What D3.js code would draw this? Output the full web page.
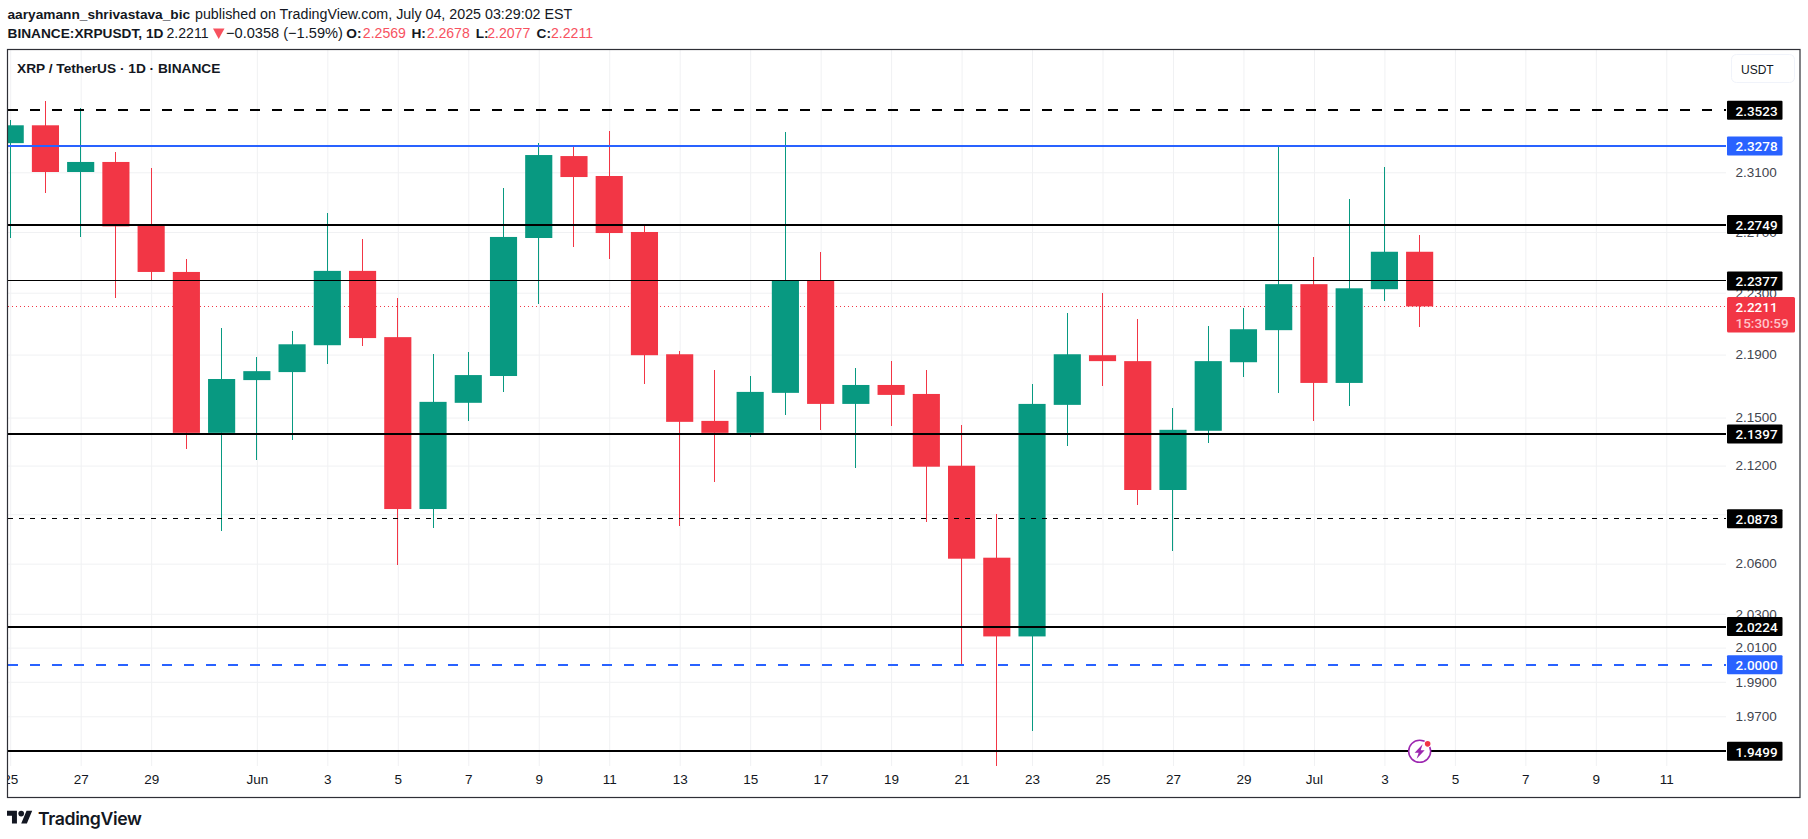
<!DOCTYPE html>
<html>
<head>
<meta charset="utf-8">
<script src="https://cdnjs.cloudflare.com/ajax/libs/d3/7.8.5/d3.min.js"></script>
<style>
  html, body { margin: 0; padding: 0; background: #fff; overflow: hidden; }
  text { font-family: "Liberation Sans", Arial, sans-serif; }
  .price-axis path, .time-axis path { display: none; }
  .grid line { stroke: #f0f1f3; stroke-width: 1; }
  .grid path { display: none; }
  .grid text { display: none; }
  .tag { font-family: Roboto, sans-serif; font-weight: 500; font-size: 13.5px; }
</style>
</head>
<body>
<script>
// Candles
var days = ["2025-05-25","2025-05-26","2025-05-27","2025-05-28","2025-05-29","2025-05-30","2025-05-31",
  "2025-06-01","2025-06-02","2025-06-03","2025-06-04","2025-06-05","2025-06-06","2025-06-07","2025-06-08",
  "2025-06-09","2025-06-10","2025-06-11","2025-06-12","2025-06-13","2025-06-14","2025-06-15","2025-06-16",
  "2025-06-17","2025-06-18","2025-06-19","2025-06-20","2025-06-21","2025-06-22","2025-06-23","2025-06-24",
  "2025-06-25","2025-06-26","2025-06-27","2025-06-28","2025-06-29","2025-06-30","2025-07-01","2025-07-02",
  "2025-07-03","2025-07-04"];
var opens = [2.3298,2.3420,2.3102,2.3170,2.2744,2.2436,2.1404,2.1737,2.1788,2.1960,2.2443,2.2012,2.0932,2.1593,
  2.1763,2.2660,2.3210,2.3075,2.2700,2.1902,2.1479,2.1404,2.1656,2.2377,2.1586,2.1706,2.1649,2.1199,2.0636,
  2.0166,2.1580,2.1896,2.1858,2.1049,2.1417,2.1851,2.2057,2.2356,2.1719,2.2323,2.2569];
var highs = [2.3454,2.3589,2.3541,2.3237,2.3129,2.2522,2.2070,2.1883,2.2050,2.2825,2.2653,2.2263,2.1902,2.1915,
  2.2994,2.3298,2.3278,2.3379,2.2737,2.1921,2.1801,2.1763,2.3372,2.2568,2.1813,2.1858,2.1801,2.1454,2.0902,
  2.1712,2.2166,2.2295,2.2128,2.1561,2.2083,2.2199,2.3271,2.2535,2.2920,2.3136,2.2678];
var lows = [2.2660,2.2960,2.2667,2.2265,2.2383,2.1305,2.0799,2.1236,2.1361,2.1839,2.1953,2.0593,2.0817,2.1479,
  2.1662,2.2225,2.2601,2.2522,2.1712,2.0829,2.1099,2.1379,2.1516,2.1423,2.1186,2.1448,2.0853,2.0001,1.9414,
  1.9615,2.1323,2.1700,2.0956,2.0678,2.1342,2.1756,2.1656,2.1479,2.1574,2.2244,2.2077];
var closes = [2.3420,2.3102,2.3170,2.2737,2.2436,2.1404,2.1744,2.1794,2.1966,2.2443,2.2006,2.0932,2.1599,2.1769,
  2.2667,2.3217,2.3068,2.2693,2.1896,2.1473,2.1404,2.1662,2.2377,2.1586,2.1706,2.1643,2.1193,2.0630,2.0166,
  2.1586,2.1902,2.1858,2.1049,2.1423,2.1858,2.2063,2.2356,2.1719,2.2329,2.2569,2.2211];

// Axis ticks
var priceTicks = [2.31,2.27,2.23,2.19,2.15,2.12,2.09,2.06,2.03,2.01,1.99,1.97];
var timeTicks = ["2025-05-25","2025-05-27","2025-05-29","2025-06-01","2025-06-03","2025-06-05","2025-06-07",
  "2025-06-09","2025-06-11","2025-06-13","2025-06-15","2025-06-17","2025-06-19","2025-06-21","2025-06-23",
  "2025-06-25","2025-06-27","2025-06-29","2025-07-01","2025-07-03","2025-07-05","2025-07-07","2025-07-09",
  "2025-07-11"];
var timeLabels = ["25","27","29","Jun","3","5","7","9","11","13","15","17","19","21","23","25","27","29",
  "Jul","3","5","7","9","11"];

// Horizontal levels drawn on the chart
var levelPrices = [2.3523,2.3278,2.2749,2.2377,2.1397,2.0873,2.0224,2.0000,1.9499];
var levelColors = ["#000000","#2962ff","#000000","#000000","#000000","#000000","#000000","#2962ff","#000000"];
var levelWidths = [2,2,2,1,2,1,2,2,2];
var levelDashes = ["10,12","none","none","none","none","5,6","none","10,12","none"];

var lastPrice = 2.2211;
var countdown = "15:30:59";
var changeText = "\u22120.0358 (\u22121.59%)";
var ohlcLabels = ["O:","H:","L:","C:"];
var ohlcValues = ["2.2569","2.2678","2.2077","2.2211"];

// SVG Size
var width = 1808, height = 839;
var frame = {left: 7.5, top: 49.5, right: 1800, bottom: 797.5};
var plotRight = 1726, plotBottom = 766;
var green = "#089981", red = "#f23645", ink = "#131722";

var parseDay = d3.utcParse("%Y-%m-%d");
var x = d3.scaleUtc()
  .domain([parseDay("2025-05-25"), parseDay("2025-07-11")])
  .range([10.2, 1666.3]);
var y = d3.scaleLog()
  .domain([1.97, 2.31])
  .range([716.3, 172.3]);

var candles = days.map(function(d, i) {
  return {day: parseDay(d), o: opens[i], h: highs[i], l: lows[i], c: closes[i]};
});
var bodyWidth = (x(parseDay("2025-05-26")) - x(parseDay("2025-05-25"))) * 0.77;

var svg = d3.select("body").append("svg")
  .attr("width", width)
  .attr("height", height)
  .style("display", "block");

svg.append("clipPath").attr("id", "plot-clip").append("rect")
  .attr("x", frame.left).attr("y", frame.top)
  .attr("width", plotRight - frame.left).attr("height", plotBottom - frame.top);

var tickDates = timeTicks.map(parseDay);
var plot = svg.append("g").attr("clip-path", "url(#plot-clip)");

// grid
plot.append("g")
  .attr("class", "grid")
  .attr("transform", "translate(0," + plotBottom + ")")
  .call(d3.axisBottom(x).tickValues(tickDates).tickSize(-(plotBottom - frame.top)).tickFormat(""));
plot.append("g")
  .attr("class", "grid")
  .attr("transform", "translate(" + frame.left + ",0)")
  .call(d3.axisRight(y).tickValues(priceTicks).tickSize(plotRight - frame.left).tickFormat(""));

// last price line sits behind the candles
plot.append("line")
  .attr("x1", frame.left).attr("x2", plotRight)
  .attr("y1", y(lastPrice)).attr("y2", y(lastPrice))
  .attr("stroke", red).attr("stroke-width", 1).attr("stroke-dasharray", "1,3")
  .attr("shape-rendering", "crispEdges");

function candleColor(d) { return d.c >= d.o ? green : red; }

plot.append("g").selectAll("line")
  .data(candles)
  .enter()
  .append("line")
  .attr("x1", function(d) { return x(d.day); })
  .attr("x2", function(d) { return x(d.day); })
  .attr("y1", function(d) { return y(d.h); })
  .attr("y2", function(d) { return y(d.l); })
  .attr("stroke", candleColor)
  .attr("stroke-width", 1)
  .attr("shape-rendering", "crispEdges");

plot.append("g").selectAll("rect")
  .data(candles)
  .enter()
  .append("rect")
  .attr("x", function(d) { return x(d.day) - bodyWidth / 2; })
  .attr("y", function(d) { return y(Math.max(d.o, d.c)); })
  .attr("width", bodyWidth)
  .attr("height", function(d) { return y(Math.min(d.o, d.c)) - y(Math.max(d.o, d.c)); })
  .attr("fill", candleColor);

// levels on top of the candles
plot.append("g").selectAll("line")
  .data(levelPrices)
  .enter()
  .append("line")
  .attr("x1", frame.left).attr("x2", plotRight)
  .attr("y1", function(d) { return y(d); })
  .attr("y2", function(d) { return y(d); })
  .attr("stroke", function(d, i) { return levelColors[i]; })
  .attr("stroke-width", function(d, i) { return levelWidths[i]; })
  .attr("stroke-dasharray", function(d, i) { return levelDashes[i]; })
  .attr("shape-rendering", "crispEdges");

// price axis
var priceAxis = svg.append("g")
  .attr("class", "price-axis")
  .attr("transform", "translate(1735.5,0)")
  .call(d3.axisRight(y).tickValues(priceTicks).tickSize(0).tickPadding(0).tickFormat(d3.format(".4f")));
priceAxis.selectAll("text")
  .attr("font-family", null)
  .style("font-size", "13.5px")
  .attr("fill", "#42454e");

// time axis
var timeAxis = svg.append("g")
  .attr("class", "time-axis")
  .attr("transform", "translate(0,774)")
  .call(d3.axisBottom(x).tickValues(tickDates).tickSize(0).tickPadding(0)
    .tickFormat(function(d, i) { return timeLabels[i]; }));
timeAxis.selectAll("text")
  .attr("font-family", null)
  .style("font-size", "13.5px")
  .attr("fill", ink);
// the first label runs under the left edge of the frame
svg.append("clipPath").attr("id", "first-label").append("rect")
  .attr("x", frame.left - x(parseDay("2025-05-25"))).attr("y", 0).attr("width", 40).attr("height", 30);
timeAxis.selectAll(".tick").filter(function(d, i) { return i === 0; }).select("text")
  .attr("clip-path", "url(#first-label)");

// level labels cover the ticks
var labelGroup = svg.append("g").selectAll("g")
  .data(levelPrices)
  .enter()
  .append("g")
  .attr("transform", function(d) { return "translate(1727," + y(d) + ")"; });
labelGroup.append("rect")
  .attr("x", 0).attr("y", -9.5).attr("width", 55.5).attr("height", 19).attr("rx", 1)
  .attr("fill", function(d, i) { return levelColors[i]; });
labelGroup.append("text")
  .attr("class", "tag")
  .attr("x", 8.5).attr("y", 5.2)
  .attr("fill", "#fff")
  .text(function(d) { return d3.format(".4f")(d); });

// current price tag
var lastTag = svg.append("g");
lastTag.append("rect")
  .attr("x", 1727).attr("y", y(lastPrice) - 9.5).attr("width", 68).attr("height", 35.5).attr("rx", 1.5)
  .attr("fill", red);
lastTag.append("text")
  .attr("class", "tag")
  .attr("x", 1735.5).attr("y", y(lastPrice) + 5.5)
  .attr("fill", "#fff")
  .text(d3.format(".4f")(lastPrice));
lastTag.append("text")
  .attr("class", "tag")
  .attr("x", 1735.5).attr("y", y(lastPrice) + 21.5)
  .attr("fill", "#ffc4ca")
  .text(countdown);

// frame
svg.append("rect")
  .attr("x", frame.left).attr("y", frame.top)
  .attr("width", frame.right - frame.left).attr("height", frame.bottom - frame.top)
  .attr("fill", "none").attr("stroke", "#2e2f36").attr("stroke-width", 1.2);

// currency button
svg.append("rect")
  .attr("x", 1731.5).attr("y", 54.5).attr("width", 63).attr("height", 28).attr("rx", 5)
  .attr("fill", "#fff").attr("stroke", "#f0f3fa");
svg.append("text")
  .attr("x", 1741).attr("y", 73.5).attr("fill", ink).style("font-size", "12px").text("USDT");

// chart title
svg.append("text")
  .attr("x", 17).attr("y", 72.5).attr("fill", ink)
  .style("font-size", "13.7px").style("font-weight", "bold")
  .text("XRP / TetherUS \u00b7 1D \u00b7 BINANCE");

// header lines
svg.append("text")
  .attr("x", 7.5).attr("y", 19).attr("fill", ink)
  .style("font-size", "13.7px").style("font-weight", "bold")
  .text("aaryamann_shrivastava_bic");
svg.append("text")
  .attr("x", 195).attr("y", 19).attr("fill", ink)
  .style("font-size", "14.27px")
  .text("published on TradingView.com, July 04, 2025 03:29:02 EST");

svg.append("text")
  .attr("x", 7.5).attr("y", 38).attr("fill", ink)
  .style("font-size", "13.7px").style("font-weight", "bold")
  .text("BINANCE:XRPUSDT, 1D");
svg.append("text")
  .attr("x", 166.5).attr("y", 38).attr("fill", ink)
  .style("font-size", "14.1px")
  .text(d3.format(".4f")(lastPrice));
svg.append("path")
  .attr("d", "M213,28.5H224.5L218.7,39Z")
  .attr("fill", "#f7525f");
svg.append("text")
  .attr("x", 226).attr("y", 38).attr("fill", ink)
  .style("font-size", "14.6px")
  .text(changeText);

var ohlcLabelX = [346.3, 411.4, 475.7, 536.5];
var ohlcValueX = [362.8, 426.7, 487.2, 551];
ohlcLabels.forEach(function(t, i) {
  svg.append("text")
    .attr("x", ohlcLabelX[i]).attr("y", 38).attr("fill", ink)
    .style("font-size", "13.7px").style("font-weight", "bold")
    .text(t);
  svg.append("text")
    .attr("x", ohlcValueX[i]).attr("y", 38).attr("fill", "#f7525f")
    .style("font-size", "14.1px")
    .text(ohlcValues[i]);
});

// lightning marker on the last candle's day
var marker = svg.append("g")
  .attr("transform", "translate(" + x(parseDay("2025-07-04")) + "," + y(1.9499) + ")");
marker.append("circle").attr("r", 11).attr("fill", "#fff").attr("stroke", "#9c27b0").attr("stroke-width", 1.5);
marker.append("path")
  .attr("d", "M3,-7L-5,1.5H-1L-3,7.5L5,-1H1Z")
  .attr("fill", "#9c27b0");
marker.append("circle").attr("cx", 8).attr("cy", -7.5).attr("r", 3.8).attr("fill", "#fff");
marker.append("circle").attr("cx", 8).attr("cy", -7.5).attr("r", 2.8).attr("fill", red);

// logo
svg.append("path")
  .attr("transform", "translate(7,807.9) scale(0.71)")
  .attr("d", "M14 22H7V11H0V4h14v18zM28 22h-8l7.5-18h8L28 22z")
  .attr("fill", ink);
svg.append("circle")
  .attr("cx", 7 + 20 * 0.71).attr("cy", 807.9 + 8 * 0.71).attr("r", 4 * 0.71)
  .attr("fill", ink);
svg.append("text")
  .attr("x", 38).attr("y", 824.5).attr("fill", ink)
  .style("font-family", "Inter, sans-serif")
  .style("font-size", "17.7px").style("font-weight", "600")
  .style("letter-spacing", "-0.4px")
  .text("TradingView");
</script>
</body>
</html>
